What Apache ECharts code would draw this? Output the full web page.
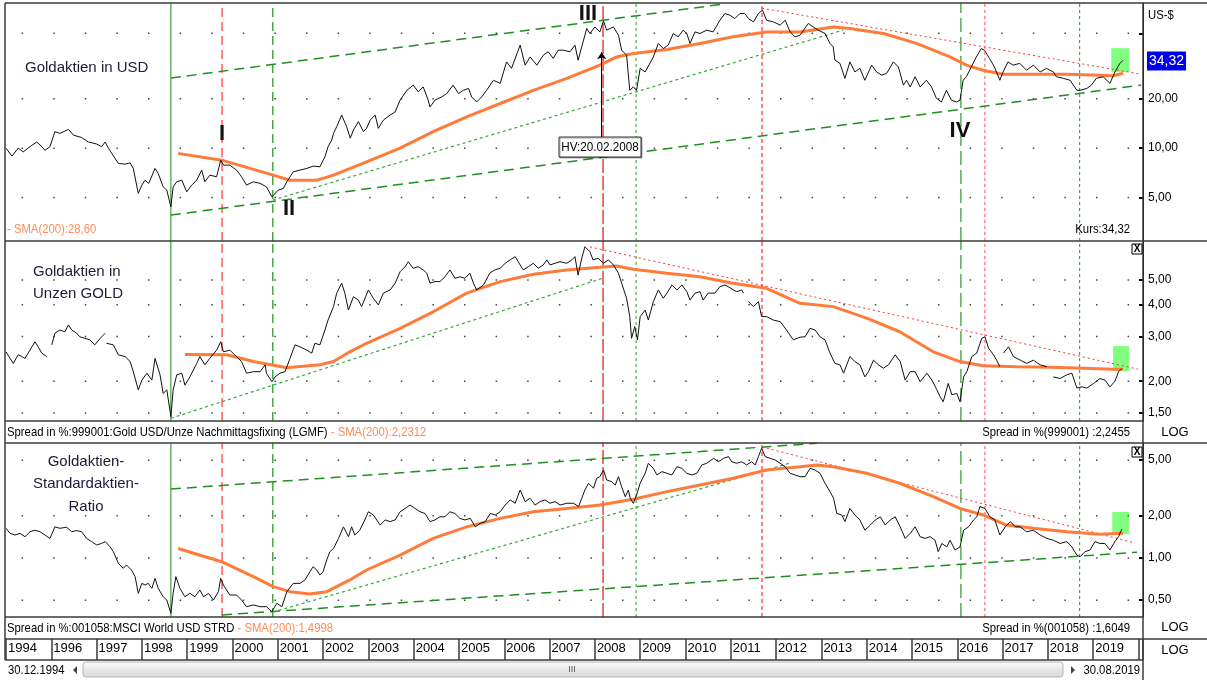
<!DOCTYPE html>
<html>
<head>
<meta charset="utf-8">
<script src="https://cdn.jsdelivr.net/npm/echarts@6.0.0/dist/echarts.min.js"></script>
<style>
  html, body { margin: 0; padding: 0; background: #fff; }
  #chart { width: 1207px; height: 680px; }
</style>
</head>
<body>
<div id="chart"></div>
<script>
// Goldaktien in USD (Kurs)
const usdT = [1995.00,1995.13,1995.27,1995.38,1995.57,1995.68,1995.79,1995.86,1995.97,1996.08,1996.19,1996.38,1996.49,1996.67,1996.82,1997.00,1997.11,1997.19,1997.26,1997.48,1997.63,1997.74,1997.81,1997.92,1998.00,1998.07,1998.15,1998.29,1998.36,1998.47,1998.55,1998.64,1998.69,1998.77,1998.88,1998.99,1999.10,1999.21,1999.32,1999.39,1999.50,1999.65,1999.74,1999.80,1999.94,2000.09,2000.20,2000.31,2000.46,2000.61,2000.75,2000.87,2001.01,2001.12,2001.20,2001.34,2001.49,2001.64,2001.78,2001.93,2002.04,2002.11,2002.19,2002.23,2002.30,2002.41,2002.52,2002.60,2002.67,2002.78,2002.89,2002.96,2003.04,2003.15,2003.22,2003.33,2003.48,2003.59,2003.70,
  2003.85,2003.99,2004.10,2004.21,2004.32,2004.36,2004.47,2004.62,2004.73,2004.87,2004.99,2005.10,2005.21,2005.28,2005.39,2005.50,2005.61,2005.76,2005.91,2006.05,2006.16,2006.35,2006.46,2006.57,2006.72,2006.86,2006.97,2007.08,2007.19,2007.30,2007.45,2007.56,2007.63,2007.71,2007.82,2007.89,2008.00,2008.11,2008.19,2008.26,2008.41,2008.52,2008.59,2008.70,2008.77,2008.85,2008.92,2009.00,2009.11,2009.29,2009.40,2009.51,2009.62,2009.73,2009.84,2009.95,2010.03,2010.10,2010.21,2010.32,2010.47,2010.61,2010.76,2010.87,2010.98,2011.09,2011.20,2011.31,2011.39,2011.50,2011.61,2011.70,2011.79,2011.94,2012.09,2012.20,2012.31,2012.42,2012.53,
  2012.71,2012.82,2012.93,2013.08,2013.19,2013.26,2013.30,2013.41,2013.52,2013.63,2013.74,2013.85,2013.96,2014.11,2014.22,2014.33,2014.44,2014.59,2014.70,2014.81,2014.88,2014.96,2015.07,2015.18,2015.32,2015.43,2015.54,2015.65,2015.76,2015.87,2015.98,2016.06,2016.13,2016.20,2016.31,2016.42,2016.53,2016.60,2016.71,2016.82,2016.94,2017.01,2017.12,2017.23,2017.38,2017.53,2017.68,2017.83,2017.97,2018.12,2018.19,2018.34,2018.49,2018.64,2018.71,2018.86,2018.96,2019.07,2019.22,2019.37,2019.48,2019.59,2019.66];
const usdV = [10.0,8.94,10.0,9.49,10.4,10.9,10.2,9.7,10.2,12.6,12.3,13.0,12.0,11.6,10.9,10.6,10.2,10.9,10.0,8.07,7.99,8.14,7.52,5.30,5.96,6.38,6.10,7.52,7.01,5.81,5.55,4.39,5.81,6.24,6.38,5.42,5.96,6.38,7.35,6.24,6.85,6.69,8.45,7.88,7.88,7.35,6.69,5.96,6.24,6.10,5.81,5.05,5.55,5.68,6.24,7.17,7.35,7.52,7.77,7.70,8.85,10.2,11.2,12.3,13.5,15.9,13.5,11.5,12.9,14.5,12.6,13.2,14.8,15.9,13.2,14.8,15.9,16.6,19.6,
  22.5,24.2,22.0,23.6,19.6,17.8,19.6,20.5,21.5,24.2,21.5,22.5,23.1,20.5,19.1,20.5,22.5,25.9,24.8,33.5,30.6,42.4,32.0,35.9,32.0,36.8,38.6,35.2,39.5,39.5,38.6,42.4,34.3,41.4,53.5,49.9,54.7,51.0,59.5,52.3,54.7,48.7,39.5,36.8,22.5,23.6,22.5,30.6,29.1,35.9,43.4,40.4,42.4,49.9,47.6,52.3,49.9,43.4,51.0,49.9,52.3,51.0,60.1,66.0,64.5,61.5,66.0,66.0,61.5,58.7,66.0,69.2,60.1,58.7,56.1,60.1,51.0,47.6,48.7,
  57.4,54.7,52.3,49.9,43.4,41.4,34.3,32.8,26.6,33.5,29.1,30.6,25.9,32.0,29.1,27.8,28.5,33.5,31.2,24.2,25.9,23.6,27.2,23.6,25.9,23.6,20.1,19.1,22.5,19.6,19.1,19.6,25.9,27.2,31.2,35.9,40.4,39.5,35.2,31.2,25.9,29.1,33.5,32.0,32.8,29.8,32.0,29.1,30.6,29.1,27.2,26.6,25.9,22.5,22.5,23.1,24.2,26.6,27.2,24.8,29.1,32.8,34.32];
const usdSmaT = [1998.80,1999.76,2000.90,2001.27,2001.86,2002.23,2002.60,2002.96,2003.70,2004.43,2005.17,2005.91,2006.64,2007.38,2008.11,2008.48,2008.85,2009.59,2010.32,2011.05,2011.79,2012.53,2013.26,2013.63,2014.37,2015.10,2015.84,2016.20,2016.57,2017.01,2017.68,2018.42,2019.14,2019.44,2019.66];
const usdSma = [9.29,8.45,6.85,6.38,6.38,6.85,7.52,8.25,10.0,12.6,15.5,18.7,22.5,26.6,32.0,35.9,37.7,39.9,43.4,47.6,51.0,51.0,54.7,53.5,49.9,43.4,35.9,32.0,29.8,28.2,28.2,28.2,27.8,27.6,28.6];

// Goldaktien in Unzen Gold
const goldT = [1995.00,1995.09,1995.16,1995.27,1995.35,1995.42,1995.53,1995.64,1995.71,1995.79,1995.90,1995.95,1996.01,1996.08,1996.19,1996.30,1996.38,1996.45,1996.56,1996.63,1996.74,1996.85,1996.96,1997.08,1997.19,1997.20,1997.22,1997.37,1997.48,1997.63,1997.74,1997.81,1997.92,1998.00,1998.11,1998.22,1998.29,1998.40,1998.47,1998.55,1998.64,1998.69,1998.77,1998.88,1998.95,1999.06,1999.21,1999.28,1999.39,1999.50,1999.65,1999.74,1999.80,1999.94,2000.09,2000.20,2000.31,2000.46,2000.61,2000.72,2000.75,2000.87,2000.94,2001.05,2001.16,2001.27,2001.38,2001.49,2001.64,2001.75,2001.82,2001.93,2002.04,2002.11,2002.23,2002.30,2002.41,2002.48,2002.56,2002.67,2002.78,2002.85,2003.00,2003.11,2003.22,2003.33,2003.48,2003.59,2003.70,
  2003.81,2003.88,2003.99,2004.10,2004.21,2004.29,2004.36,2004.47,2004.58,2004.69,2004.80,2004.91,2005.02,2005.13,2005.24,2005.32,2005.39,2005.54,2005.68,2005.79,2005.91,2006.02,2006.13,2006.24,2006.35,2006.42,2006.53,2006.64,2006.75,2006.86,2006.94,2007.01,2007.12,2007.23,2007.38,2007.49,2007.56,2007.63,2007.71,2007.78,2007.89,2007.96,2008.07,2008.19,2008.30,2008.41,2008.52,2008.59,2008.70,2008.77,2008.81,2008.88,2008.94,2009.00,2009.11,2009.18,2009.29,2009.40,2009.51,2009.59,2009.70,2009.81,2009.92,2010.03,2010.10,2010.21,2010.32,2010.39,2010.50,2010.65,2010.76,2010.87,2010.94,2011.06,2011.13,2011.24,2011.28,2011.30,2011.39,2011.50,2011.61,2011.68,2011.79,2011.94,2012.09,2012.23,2012.38,2012.53,
  2012.64,2012.75,2012.86,2012.97,2013.08,2013.19,2013.30,2013.41,2013.49,2013.63,2013.74,2013.85,2013.96,2014.04,2014.15,2014.26,2014.37,2014.48,2014.63,2014.74,2014.85,2014.96,2015.07,2015.18,2015.33,2015.44,2015.55,2015.62,2015.69,2015.80,2015.88,2015.99,2016.06,2016.14,2016.21,2016.32,2016.43,2016.54,2016.61,2016.69,2016.80,2016.87,2016.94,2016.98,2017.02,2017.13,2017.24,2017.39,2017.53,2017.68,2017.83,2017.98,2018.05,2018.12,2018.27,2018.42,2018.53,2018.64,2018.75,2018.86,2019.01,2019.15,2019.26,2019.37,2019.48,2019.56,2019.63];
const goldV = [2.61,2.46,2.35,2.54,2.50,2.46,2.65,2.86,2.73,2.58,2.50,null,2.78,3.09,3.18,3.13,3.33,3.18,3.09,2.99,2.95,2.91,2.78,2.95,3.09,null,2.82,2.78,2.54,2.50,2.39,2.18,1.85,2.02,2.15,2.02,2.46,2.12,1.79,1.85,1.45,1.85,2.12,2.15,1.93,2.08,2.35,2.50,2.32,2.46,2.65,2.86,2.61,2.65,2.50,2.39,2.15,2.18,2.18,2.32,2.15,1.99,2.08,2.15,2.18,2.46,2.78,2.73,2.65,2.58,2.82,2.78,3.18,3.48,3.93,4.44,4.86,4.44,3.81,4.30,4.17,3.93,4.57,4.24,3.99,4.44,4.57,4.86,5.39,
  5.64,5.90,5.56,5.64,5.48,5.32,4.86,4.93,4.93,5.15,5.48,5.08,5.15,5.08,5.32,4.86,4.57,4.78,5.32,5.48,5.56,5.82,6.00,6.18,5.73,5.48,5.64,5.82,5.56,5.73,6.00,5.73,5.82,5.90,5.82,6.00,6.18,5.23,6.09,6.76,6.46,6.00,6.09,5.82,6.00,5.73,5.32,4.86,4.24,3.59,2.95,3.28,2.91,3.59,3.81,3.48,4.11,4.57,4.24,4.44,4.78,4.57,4.78,4.50,4.17,4.44,4.50,4.17,4.44,4.44,4.71,4.78,4.71,4.57,4.50,4.57,4.44,null,4.11,3.93,4.11,3.59,3.59,3.48,3.43,3.18,2.91,2.98,
  2.99,3.23,3.18,2.99,2.91,2.58,2.35,2.32,2.15,2.50,2.39,2.32,2.08,2.18,2.42,2.32,2.25,2.32,2.54,2.39,2.02,2.18,2.18,1.99,2.15,2.02,1.85,1.74,1.66,1.96,1.77,1.79,1.66,2.08,2.18,2.50,2.58,2.95,2.99,2.70,2.54,2.42,2.28,null,2.58,2.73,2.50,2.42,2.35,2.42,2.32,2.28,null,2.08,2.05,2.12,2.15,1.88,1.90,1.88,1.96,2.05,2.02,1.90,2.00,2.18,2.2455];
const goldSmaT = [1998.95,1999.87,2000.46,2001.20,2001.93,2002.23,2002.59,2002.96,2003.70,2004.43,2005.17,2005.91,2006.64,2007.38,2008.11,2008.48,2008.85,2009.59,2010.32,2011.05,2011.79,2012.53,2013.26,2014.00,2014.73,2015.47,2016.06,2016.57,2017.31,2018.05,2018.79,2019.44,2019.66];
const goldSma = [2.55,2.54,2.39,2.26,2.32,2.39,2.61,2.82,3.23,3.75,4.44,4.93,5.27,5.48,5.61,5.68,5.51,5.32,5.15,4.86,4.64,4.05,3.93,3.54,3.13,2.61,2.39,2.30,2.28,2.27,2.25,2.23,2.2312];

// Goldaktien-Standardaktien-Ratio
const ratioT = [1995.00,1995.09,1995.20,1995.31,1995.42,1995.53,1995.64,1995.75,1995.86,1995.97,1996.08,1996.19,1996.34,1996.45,1996.56,1996.67,1996.78,1996.89,1997.00,1997.11,1997.19,1997.30,1997.37,1997.48,1997.59,1997.66,1997.77,1997.85,1997.92,1998.00,1998.07,1998.14,1998.22,1998.29,1998.36,1998.47,1998.55,1998.64,1998.69,1998.75,1998.84,1998.95,1999.06,1999.17,1999.28,1999.36,1999.47,1999.58,1999.69,1999.74,1999.80,1999.94,2000.09,2000.20,2000.31,2000.46,2000.61,2000.75,2000.87,2000.98,2001.09,2001.20,2001.34,2001.49,2001.60,2001.71,2001.78,2001.86,2001.93,2002.00,2002.08,2002.15,2002.23,2002.34,2002.45,2002.56,2002.63,2002.70,2002.81,2002.92,2003.00,2003.11,2003.26,2003.37,2003.48,2003.59,2003.70,
  2003.81,2003.92,2004.03,2004.14,2004.25,2004.36,2004.47,2004.58,2004.69,2004.80,2004.91,2005.02,2005.13,2005.25,2005.36,2005.47,2005.58,2005.69,2005.80,2005.91,2006.02,2006.13,2006.24,2006.35,2006.46,2006.57,2006.68,2006.79,2006.90,2007.01,2007.12,2007.23,2007.38,2007.53,2007.64,2007.71,2007.78,2007.86,2007.97,2008.04,2008.11,2008.19,2008.26,2008.37,2008.45,2008.52,2008.59,2008.67,2008.74,2008.78,2008.85,2008.92,2009.00,2009.11,2009.18,2009.29,2009.37,2009.48,2009.59,2009.70,2009.81,2009.92,2010.03,2010.14,2010.25,2010.36,2010.47,2010.62,2010.73,2010.84,2010.95,2011.02,2011.13,2011.24,2011.35,2011.46,2011.54,2011.61,2011.68,2011.76,2011.87,2011.98,2012.09,2012.20,2012.31,2012.42,2012.53,
  2012.64,2012.75,2012.86,2012.97,2013.08,2013.19,2013.27,2013.34,2013.45,2013.52,2013.63,2013.74,2013.85,2013.96,2014.08,2014.19,2014.30,2014.41,2014.52,2014.63,2014.74,2014.85,2014.96,2015.07,2015.18,2015.29,2015.40,2015.51,2015.58,2015.66,2015.77,2015.84,2015.95,2016.06,2016.14,2016.25,2016.36,2016.43,2016.50,2016.61,2016.72,2016.83,2016.94,2017.06,2017.17,2017.28,2017.39,2017.53,2017.68,2017.83,2017.98,2018.12,2018.27,2018.42,2018.53,2018.64,2018.71,2018.82,2018.93,2019.04,2019.15,2019.26,2019.37,2019.48,2019.56,2019.63];
const ratioV = [1.63,1.50,1.46,1.50,1.42,1.54,1.58,1.54,1.46,1.38,1.67,1.63,1.66,1.54,1.57,1.54,1.38,1.31,1.24,1.27,1.31,1.20,1.11,0.916,0.844,0.891,0.821,0.736,0.559,0.659,0.641,0.659,0.607,0.716,0.607,0.529,0.501,0.403,0.559,0.736,0.607,0.529,0.559,0.529,0.591,0.529,0.559,0.501,0.575,0.716,0.641,0.544,0.544,0.501,0.449,0.462,0.449,0.449,0.414,0.475,0.449,0.575,0.659,0.659,0.697,0.799,0.867,0.821,0.756,0.799,0.968,1.11,1.17,1.38,1.67,1.42,1.67,1.46,1.58,1.87,2.14,2.03,1.72,1.87,1.82,1.87,2.14,
  2.26,2.39,2.26,2.14,2.08,1.82,1.87,1.97,1.97,2.14,2.08,1.92,1.87,1.92,1.67,1.77,1.82,2.08,2.03,2.14,2.39,2.60,2.46,3.06,2.53,2.67,2.39,2.53,2.60,2.46,2.53,2.39,2.46,2.46,2.33,2.67,3.06,3.42,3.15,3.71,3.81,4.25,3.61,3.51,3.32,3.81,3.23,2.74,3.06,2.67,2.46,2.82,3.42,4.03,4.75,4.37,3.92,4.14,4.03,3.92,4.49,4.37,4.03,3.92,4.03,4.62,4.75,5.15,4.87,5.15,5.30,4.87,4.75,4.87,4.62,4.87,4.62,5.30,6.07,5.30,5.15,5.01,4.75,4.49,4.03,3.92,3.81,
  3.81,4.37,4.25,4.03,3.42,2.98,2.67,2.08,2.03,1.82,2.26,2.03,1.87,1.58,1.72,1.87,1.97,1.72,1.87,1.97,1.67,1.38,1.50,1.67,1.42,1.38,1.42,1.34,1.11,1.27,1.20,1.34,1.14,1.20,1.58,1.67,1.87,1.97,2.33,2.26,1.97,1.87,1.46,1.67,1.82,1.67,1.67,1.54,1.58,1.46,1.38,1.34,1.27,1.31,1.20,1.05,1.02,1.11,1.14,1.31,1.27,1.27,1.14,1.31,1.42,1.6049];
const ratioSmaT = [1998.80,1999.76,2000.46,2000.90,2001.27,2001.71,2002.08,2002.59,2002.96,2003.70,2004.43,2005.17,2005.91,2006.64,2007.38,2008.11,2008.85,2009.59,2010.32,2011.05,2011.79,2012.53,2012.90,2013.26,2014.00,2014.73,2015.47,2016.06,2016.57,2017.08,2017.68,2018.42,2019.14,2019.66];
const ratioSma = [1.17,0.941,0.736,0.624,0.575,0.553,0.575,0.697,0.821,1.05,1.38,1.67,1.92,2.14,2.26,2.39,2.63,2.98,3.32,3.71,4.25,4.49,4.62,4.49,4.03,3.42,2.74,2.26,2.03,1.72,1.63,1.54,1.48,1.4998];

// Trendlinien [Jahr, Wert]
const usdChannelHigh = [[1998.64, 26.7], [2010.81, 75.2]];
const usdChannelLow = [[1998.64, 3.91], [2020.06, 24.2]];
const usdSupport = [[2000.89, 4.83], [2013.48, 52.3]];
const usdResistance = [[2011.69, 71.1], [2020.06, 28.2]];
const goldSupport = [[1998.64, 1.43], [2008.18, 5.09]];
const goldResistance = [[2007.89, 6.75], [2019.99, 2.23]];
const ratioChannelHigh = [[1998.64, 3.11], [2012.9, 6.6]];
const ratioChannelLow = [[1999.77, 0.392], [2019.97, 1.10]];
const ratioSupport = [[2000.89, 0.411], [2012.31, 4.77]];
const ratioResistance = [[2011.69, 6.21], [2019.92, 1.28]];
const usdArrow = [[2008.15, 11.7], [2008.15, 38.4]];

// grüne Markierungen am Ende
const usdBox = [[2019.40, 29.0], [2019.80, 40.6]];
const goldBox = [[2019.44, 2.19], [2019.79, 2.75]];
const ratioBox = [[2019.42, 1.48], [2019.79, 2.13]];

// senkrechte Linien
const eventYears = [1998.64, 1999.77, 2000.89, 2008.18, 2008.91, 2011.69, 2016.08, 2016.61, 2018.70];

// Achsen
const yearTicks = [1995,1996,1997,1998,1999,2000,2001,2002,2003,2004,2005,2006,2007,2008,2009,2010,2011,2012,2013,2014,2015,2016,2017,2018,2019];
const yearLabels = ['1994','1996','1997','1998','1999','2000','2001','2002','2003','2004','2005','2006','2007','2008','2009','2010','2011','2012','2013','2014','2015','2016','2017','2018','2019'];
const xRange = [1995, 2020.1];
const usdRange = [2.72, 76.5];
const goldRange = [1.395, 7.12];
const ratioRange = [0.379, 6.63];
const usdTicks = [5, 10, 20, 50];
const usdLabels = [5, 10, 20];
const goldTicks = [1.5, 2, 3, 4, 5];
const ratioTicks = [0.5, 1, 2, 5];

const FONT = '"Liberation Sans", Arial, sans-serif';
const L = Math.log10;
const pairs = (t, v) => t.map((x, i) => [x, v[i] == null ? '-' : L(v[i])]);
const seg = (p) => p.map(d => [d[0], L(d[1])]);
const fmt = v => Math.pow(10, v).toFixed(2).replace('.', ',');

const eventStyles = [
  { color: '#1a8f1a', type: 'solid', width: 1 },
  { color: '#ff5a5a', type: [9, 5], width: 1.5 },
  { color: '#1a8f1a', type: [9, 5], width: 1.2 },
  { color: '#e01010', type: [14, 3], width: 1.2 },
  { color: '#2a9a2a', type: [3, 3], width: 1 },
  { color: '#ff8080', type: [4, 3], width: 2 },
  { color: '#2a9a2a', type: [14, 5], width: 1.2 },
  { color: '#ff5050', type: [3, 3], width: 1 },
  { color: '#40aa40', type: [3, 3], width: 1.2 }
];
const channelStyle = { color: '#1f8f1f', width: 1.5, type: [10, 6] };
const supportStyle = { color: '#33aa33', width: 1.2, type: [3, 3] };
const resistStyle = { color: '#ff3030', width: 1, type: [2, 3] };
const gridDotStyle = { color: '#444', width: 1.5, type: [1.5, 30.1], dashOffset: 16 };

const chart = echarts.init(document.getElementById('chart'), null, { renderer: 'canvas' });

function yAxisFor(i, range, ticks, labels) {
  return {
    type: 'value', gridIndex: i, position: 'right',
    min: L(range[0]), max: L(range[1]),
    axisLine: { show: true, lineStyle: { color: '#000', width: 1 } },
    axisTick: { show: true, inside: true, length: 4, customValues: ticks.map(L), lineStyle: { color: '#000', width: 2 } },
    axisLabel: { customValues: labels.map(L), formatter: fmt, margin: 5, fontSize: 12, color: '#000', fontFamily: FONT },
    splitLine: { show: false }
  };
}

const line = (i, data, style, z) => ({
  type: 'line', xAxisIndex: i, yAxisIndex: i, data, symbol: 'none', silent: true, z: z || 3, lineStyle: style
});

function panelSeries(i, range, grid, t, v, smaT, sma, box, trends) {
  const out = [];
  // gepunktete Rasterlinien
  grid.forEach(g => out.push(line(i, [[xRange[0], L(g)], [xRange[1], L(g)]], gridDotStyle, 1)));
  // senkrechte Markierungslinien
  eventYears.forEach((y, k) => out.push(line(i, [[y, L(range[0])], [y, L(range[1])]], eventStyles[k], 2)));
  trends.forEach(tr => out.push(line(i, seg(tr[0]), tr[1], 3)));
  out.push(line(i, pairs(smaT, sma), { color: '#ff7b3a', width: 3 }, 4));
  out.push(Object.assign(line(i, pairs(t, v), { color: '#111', width: 1 }, 5), {
    markArea: {
      silent: true, itemStyle: { color: '#80ff80' },
      data: [[{ coord: [box[0][0], L(box[0][1])] }, { coord: [box[1][0], L(box[1][1])] }]]
    }
  }));
  return out;
}

const txt = (x, y, text, o, extra) => Object.assign({ type: 'text', x, y, silent: true, z: 50,
  style: Object.assign({ text, fill: '#000', fontSize: 12, fontFamily: FONT, align: 'left', verticalAlign: 'middle' }, o || {}) }, extra || {});
const hline = (x1, x2, y, c, w) => ({ type: 'line', silent: true, z: 40, shape: { x1, y1: y, x2, y2: y }, style: { stroke: c || '#3a3a3a', lineWidth: w || 1.5 } });
const vline = (x, y1, y2, c, w) => ({ type: 'line', silent: true, z: 40, shape: { x1: x, y1, x2: x, y2 }, style: { stroke: c || '#3a3a3a', lineWidth: w || 1.5 } });
const titleStyle = { fontSize: 15, fill: '#1b1b3a' };
const romanStyle = { fontSize: 22, fontWeight: 'bold', fill: '#111', align: 'center', fontFamily: '"Liberation Sans Narrow", "Liberation Sans", Arial, sans-serif' };
const rowRich = { k: { fill: '#000', fontSize: 13, fontFamily: FONT }, o: { fill: '#ff8a55', fontSize: 13, fontFamily: FONT } };
const narrow = { scaleX: 0.87 };
const closeBox = (x, y) => [
  { type: 'rect', silent: true, z: 50, shape: { x, y, width: 10, height: 10 }, style: { fill: '#fff', stroke: '#000', lineWidth: 1 } },
  txt(x + 5, y + 5.5, 'X', { fontSize: 10, fontWeight: 'bold', align: 'center' })
];

const graphics = [
  // Rahmen
  hline(5, 1207, 3), hline(5, 1207, 241), hline(5, 1143, 421), hline(5, 1207, 443),
  hline(5, 1143, 617), hline(5, 1207, 639), hline(5, 1143, 660),
  vline(5, 3, 660), vline(1143, 3, 680),
  // Titel
  txt(25, 68, 'Goldaktien in USD', titleStyle),
  txt(33, 272, 'Goldaktien in', titleStyle),
  txt(33, 294, 'Unzen GOLD', titleStyle),
  txt(86, 462, 'Goldaktien-', Object.assign({ align: 'center' }, titleStyle)),
  txt(86, 484, 'Standardaktien-', Object.assign({ align: 'center' }, titleStyle)),
  txt(86, 507, 'Ratio', Object.assign({ align: 'center' }, titleStyle)),
  // Markierungen
  txt(222, 134, 'I', romanStyle), txt(289, 209, 'II', romanStyle),
  txt(588, 14, 'III', romanStyle), txt(960, 131, 'IV', romanStyle),
  { type: 'rect', silent: true, z: 50, shape: { x: 559, y: 137, width: 82, height: 20 }, style: { fill: '#fff', stroke: '#333', lineWidth: 1, shadowColor: 'rgba(0,0,0,0.35)', shadowOffsetX: 1, shadowOffsetY: 1 } },
  txt(600, 147.5, 'HV:20.02.2008', { align: 'center', fontSize: 13 }, { scaleX: 0.9 }),
  // Fußzeilen der Panels
  txt(7, 229, '- SMA(200):28,60', { fill: '#ff8a55', fontSize: 13 }, narrow),
  txt(1130, 229, 'Kurs:34,32', { align: 'right', fontSize: 13 }, narrow),
  txt(7, 432, '{k|Spread in %:999001:Gold USD/Unze Nachmittagsfixing (LGMF)}{o| - SMA(200):2,2312}', { rich: rowRich }, narrow),
  txt(1130, 432, 'Spread in %(999001) :2,2455', { align: 'right', fontSize: 13 }, narrow),
  txt(7, 628, '{k|Spread in %:001058:MSCI World USD STRD}{o| - SMA(200):1,4998}', { rich: rowRich }, narrow),
  txt(1130, 628, 'Spread in %(001058) :1,6049', { align: 'right', fontSize: 13 }, narrow),
  // rechte Spalte
  txt(1148, 15, 'US-$', { fontSize: 13 }, narrow),
  txt(1147, 61, '34,32', { fill: '#fff', backgroundColor: '#0000ee', padding: [3, 2, 2, 2], fontSize: 14 }),
  txt(1175, 432, 'LOG', { align: 'center', fontSize: 13 }),
  txt(1175, 627, 'LOG', { align: 'center', fontSize: 13 }),
  txt(1175, 650, 'LOG', { align: 'center', fontSize: 13 }),
  ...closeBox(1132, 244), ...closeBox(1132, 447),
  // Scrollleiste
  txt(8, 670, '30.12.1994', { fontSize: 13 }, narrow),
  { type: 'polygon', silent: true, z: 50, shape: { points: [[77, 666], [77, 674], [73, 670]] }, style: { fill: '#444' } },
  { type: 'rect', silent: true, z: 45, shape: { x: 83, y: 662, width: 980, height: 15, r: 3 },
    style: { stroke: '#b4b4b4', lineWidth: 1, fill: { type: 'linear', x: 0, y: 0, x2: 0, y2: 1, colorStops: [{ offset: 0, color: '#fbfbfb' }, { offset: 1, color: '#d6d6d6' }] } } },
  txt(572, 669.5, 'III', { fontSize: 9, fill: '#555', align: 'center' }),
  { type: 'polygon', silent: true, z: 50, shape: { points: [[1071, 666], [1071, 674], [1075, 670]] }, style: { fill: '#444' } },
  txt(1140, 670, '30.08.2019', { align: 'right', fontSize: 13 }, narrow)
];

const hiddenX = i => ({ type: 'value', gridIndex: i, min: xRange[0], max: xRange[1], show: false });

const option = {
  animation: false,
  backgroundColor: '#fff',
  grid: [
    { left: 6, top: 3, width: 1137, height: 238 },
    { left: 6, top: 241, width: 1137, height: 180 },
    { left: 6, top: 443, width: 1137, height: 174 },
    { left: 6, top: 639, width: 1137, height: 21 }
  ],
  xAxis: [
    hiddenX(0), hiddenX(1), hiddenX(2),
    {
      type: 'value', gridIndex: 3, min: xRange[0], max: xRange[1], interval: 1, position: 'top',
      axisLine: { show: false }, axisTick: { show: false },
      splitLine: { show: true, lineStyle: { color: '#3a3a3a', width: 1.5 } },
      axisLabel: {
        inside: true, align: 'left', verticalAlign: 'top', margin: 3, padding: [0, 0, 0, 2],
        fontSize: 13, color: '#000', fontFamily: FONT, showMaxLabel: false,
        formatter: v => { const k = yearTicks.indexOf(Math.round(v)); return k >= 0 && Math.abs(v - Math.round(v)) < 1e-6 ? yearLabels[k] : ''; }
      }
    }
  ],
  yAxis: [
    yAxisFor(0, usdRange, usdTicks, usdLabels),
    yAxisFor(1, goldRange, goldTicks, goldTicks),
    yAxisFor(2, ratioRange, ratioTicks, ratioTicks),
    { type: 'value', gridIndex: 3, show: false }
  ],
  series: [
    ...panelSeries(0, usdRange, usdTicks, usdT, usdV, usdSmaT, usdSma, usdBox, [
      [usdChannelHigh, channelStyle], [usdChannelLow, channelStyle], [usdSupport, supportStyle], [usdResistance, resistStyle]]),
    {
      type: 'line', xAxisIndex: 0, yAxisIndex: 0, data: [], silent: true,
      markLine: {
        silent: true, symbol: ['none', 'arrow'], symbolSize: 7, label: { show: false },
        lineStyle: { color: '#000', width: 1, type: 'solid' },
        data: [[{ coord: seg(usdArrow)[0] }, { coord: seg(usdArrow)[1] }]]
      }
    },
    ...panelSeries(1, goldRange, goldTicks, goldT, goldV, goldSmaT, goldSma, goldBox, [
      [goldSupport, supportStyle], [goldResistance, resistStyle]]),
    ...panelSeries(2, ratioRange, ratioTicks, ratioT, ratioV, ratioSmaT, ratioSma, ratioBox, [
      [ratioChannelHigh, channelStyle], [ratioChannelLow, channelStyle], [ratioSupport, supportStyle], [ratioResistance, resistStyle]])
  ],
  graphic: graphics
};

chart.setOption(option);
</script>
</body>
</html>
